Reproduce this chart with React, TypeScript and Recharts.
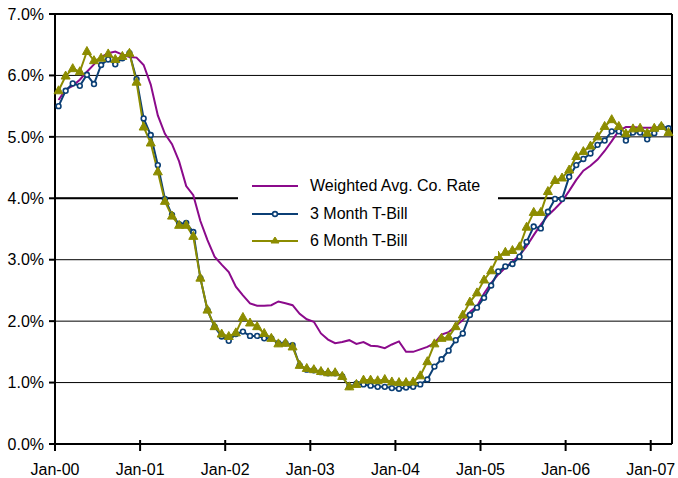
import React from 'react';
import {
  LineChart,
  Line,
  XAxis,
  YAxis,
  CartesianGrid,
  ReferenceLine,
  Legend,
} from 'recharts';

const FONT = "Arial, 'Liberation Sans', sans-serif";
const PURPLE = '#8b0a8b';
const NAVY = '#0b3f75';
const OLIVE = '#8c8c00';

// monthly, Jan-00 .. Mar-07
const weightedRate = [
  5.6, 5.77, 5.83, 5.93, 6.06, 6.18, 6.3, 6.36, 6.39, 6.34, 6.3, 6.29,
  6.17, 5.85, 5.35, 5.05, 4.88, 4.6, 4.2, 4.05, 3.63, 3.32, 3.05, 2.92,
  2.8, 2.56, 2.42, 2.29, 2.25, 2.25, 2.26, 2.32, 2.29, 2.26, 2.12, 2.03,
  1.99, 1.8, 1.7, 1.64, 1.66, 1.69, 1.63, 1.66, 1.6, 1.59, 1.56, 1.62,
  1.67, 1.5, 1.5, 1.54, 1.58, 1.64, 1.78, 1.82, 1.92, 2.02, 2.15, 2.24,
  2.45, 2.62, 2.76, 2.87, 2.97, 3.07, 3.22, 3.4, 3.57, 3.72, 3.83, 3.95,
  4.12, 4.3, 4.45, 4.53, 4.63, 4.77, 4.93, 5.1, 5.16, 5.16, 5.15, 5.15,
  5.15, 5.16, 5.15,
];

const bill3m = [
  5.5, 5.75, 5.87, 5.83, 6.01, 5.86, 6.17, 6.26, 6.18, 6.28, 6.36, 5.94,
  5.3, 5.03, 4.54, 3.99, 3.73, 3.58, 3.6, 3.45, 2.7, 2.18, 1.91, 1.75,
  1.68, 1.79, 1.83, 1.76, 1.76, 1.72, 1.72, 1.64, 1.64, 1.61, 1.28, 1.21,
  1.2, 1.17, 1.15, 1.15, 1.1, 0.93, 0.98, 0.97, 0.95, 0.93, 0.93, 0.91,
  0.9, 0.92, 0.93, 0.97, 1.05, 1.26, 1.38, 1.52, 1.69, 1.8, 2.1, 2.22,
  2.38, 2.58, 2.81, 2.89, 2.93, 3.05, 3.29, 3.54, 3.51, 3.78, 3.99, 3.99,
  4.35, 4.54, 4.64, 4.73, 4.87, 4.94, 5.09, 5.09, 4.94, 5.07, 5.07, 4.96,
  5.06, 5.17, 5.14,
];

const bill6m = [
  5.75, 5.99, 6.11, 6.06, 6.39, 6.24, 6.28, 6.35, 6.26, 6.31, 6.36, 5.89,
  5.16, 4.9, 4.43, 3.95, 3.71, 3.56, 3.56, 3.38, 2.7, 2.18, 1.91, 1.79,
  1.75, 1.81, 2.06, 1.97, 1.91, 1.8, 1.72, 1.63, 1.64, 1.58, 1.28, 1.23,
  1.21, 1.18, 1.16, 1.16, 1.1, 0.93, 0.97, 1.04, 1.04, 1.03, 1.05, 1.01,
  1.0, 1.0, 1.01, 1.11, 1.34, 1.63, 1.72, 1.74, 1.91, 2.1, 2.31, 2.46,
  2.67, 2.82, 3.06, 3.12, 3.15, 3.21, 3.53, 3.77, 3.77, 4.11, 4.29, 4.33,
  4.46, 4.68, 4.76, 4.85, 5.0, 5.17, 5.28, 5.17, 5.05, 5.13, 5.14, 5.06,
  5.14, 5.17, 5.07,
];

const tickLabels = ['Jan-00', 'Jan-01', 'Jan-02', 'Jan-03', 'Jan-04', 'Jan-05', 'Jan-06', 'Jan-07'];
const yTicks = [0, 1, 2, 3, 4, 5, 6, 7];

// points sit mid-month
const data = weightedRate.map((w, i) => ({
  t: i + 0.5,
  weighted: w,
  m3: bill3m[i],
  m6: bill6m[i],
}));

const XTick = (props: any) => {
  const { x, y, payload } = props;
  const label = tickLabels[Math.round(payload.value / 12)];
  return (
    <g>
      <line x1={x} x2={x} y1={y - 4} y2={y + 7} stroke="#000" strokeWidth={2} />
      <text x={x} y={y + 31} textAnchor="middle" fontSize={16} fontFamily={FONT} fill="#000">
        {label}
      </text>
    </g>
  );
};

const CircleDot = (props: any) => {
  const { cx, cy, index } = props;
  if (cx == null || cy == null) return null;
  return <circle key={`c-${index}`} cx={cx} cy={cy} r={2.4} fill="#fff" stroke={NAVY} strokeWidth={1.6} />;
};

const TriangleDot = (props: any) => {
  const { cx, cy, index } = props;
  if (cx == null || cy == null) return null;
  return (
    <polygon
      key={`t-${index}`}
      points={`${cx},${cy - 5} ${cx - 4.5},${cy + 3} ${cx + 4.5},${cy + 3}`}
      fill={OLIVE}
      stroke={OLIVE}
      strokeWidth={1}
    />
  );
};

const legendItems = [
  { name: 'Weighted Avg. Co. Rate', color: PURPLE, marker: 'none' },
  { name: '3 Month T-Bill', color: NAVY, marker: 'circle' },
  { name: '6 Month T-Bill', color: OLIVE, marker: 'triangle' },
];

const LegendBox = () => (
  <div style={{ position: 'relative', width: 260, height: 86, background: '#fff', fontFamily: FONT, fontSize: 16, color: '#000' }}>
    {legendItems.map((item, i) => (
      <div key={item.name} style={{ position: 'absolute', left: 0, top: 16 + i * 27.5 - 10, height: 20, display: 'flex', alignItems: 'center' }}>
        <svg width={72} height={20} style={{ display: 'block' }}>
          <line x1={14} x2={60} y1={10} y2={10} stroke={item.color} strokeWidth={2} />
          {item.marker === 'circle' && <circle cx={37} cy={10} r={2.4} fill="#fff" stroke={item.color} strokeWidth={1.6} />}
          {item.marker === 'triangle' && (
            <polygon points="37,6 33,12 41,12" fill={item.color} stroke={item.color} />
          )}
        </svg>
        <span style={{ whiteSpace: 'nowrap' }}>{item.name}</span>
      </div>
    ))}
  </div>
);

export default function App() {
  return (
    <div style={{ position: 'absolute', left: 0, top: 0, width: 678, height: 478, background: '#fff' }}>
      <LineChart
        width={678}
        height={478}
        data={data}
        margin={{ top: 14, right: 6, left: 0, bottom: 0 }}
      >
        <CartesianGrid vertical={false} stroke="#000" strokeWidth={1} />
        <ReferenceLine y={4} stroke="#000" strokeWidth={2} />
        <ReferenceLine y={7} stroke="#000" strokeWidth={2} />
        <ReferenceLine x={87} stroke="#000" strokeWidth={2} />
        <XAxis
          dataKey="t"
          type="number"
          domain={[0, 87]}
          ticks={[0, 12, 24, 36, 48, 60, 72, 84]}
          height={34}
          tickSize={0}
          tickMargin={0}
          tickLine={false}
          axisLine={{ stroke: '#000', strokeWidth: 2 }}
          tick={<XTick />}
          interval={0}
        />
        <YAxis
          type="number"
          domain={[0, 7]}
          ticks={yTicks}
          width={55}
          tickSize={6}
          tickMargin={5}
          tickFormatter={(v: number) => `${v.toFixed(1)}%`}
          tick={{ fontSize: 16, fill: '#000', fontFamily: FONT }}
          tickLine={{ stroke: '#000', strokeWidth: 2 }}
          axisLine={{ stroke: '#000', strokeWidth: 2 }}
          interval={0}
        />
        <Line
          type="linear"
          dataKey="weighted"
          stroke={PURPLE}
          strokeWidth={2}
          dot={false}
          isAnimationActive={false}
        />
        <Line
          type="linear"
          dataKey="m3"
          stroke={NAVY}
          strokeWidth={2}
          dot={<CircleDot />}
          isAnimationActive={false}
        />
        <Line
          type="linear"
          dataKey="m6"
          stroke={OLIVE}
          strokeWidth={2}
          dot={<TriangleDot />}
          isAnimationActive={false}
        />
        <Legend
          layout="vertical"
          align="center"
          verticalAlign="middle"
          content={<LegendBox />}
          wrapperStyle={{ left: 238, top: 170, width: 260, height: 86 }}
        />
      </LineChart>
    </div>
  );
}
